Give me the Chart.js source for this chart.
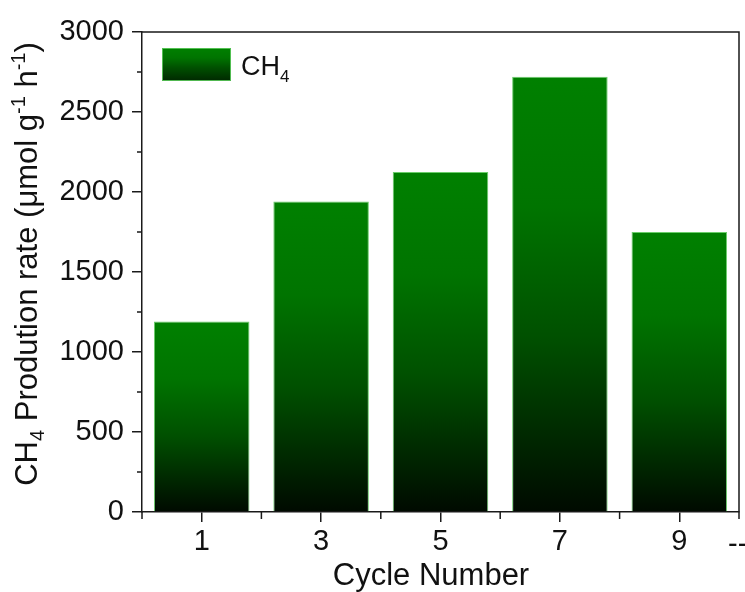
<!DOCTYPE html>
<html>
<head>
<meta charset="utf-8">
<script src="https://cdn.jsdelivr.net/npm/chart.js@4.4.0/dist/chart.umd.min.js"></script>
<style>
  html, body { margin: 0; padding: 0; background: #fff; }
  #wrap { width: 745px; height: 592px; position: relative; }
</style>
</head>
<body>
<div id="wrap"><canvas id="rateChart"></canvas></div>
<script>
const cycles = ['1', '3', '5', '7', '9'];
const ch4Rate = [1190, 1940, 2125, 2720, 1750];
const yTickValues = [0, 500, 1000, 1500, 2000, 2500, 3000];
const yMinorValues = [250, 750, 1250, 1750, 2250, 2750];

const FONT = "'Liberation Sans', Arial, sans-serif";
const AXIS = '#1a1a1a';

// each bar: green on top, fading to almost black at the base
function barGradient(c, top, bottom, dark) {
    const g = c.createLinearGradient(0, top, 0, bottom);
    g.addColorStop(0, 'rgb(0,128,0)');
    g.addColorStop(0.3, 'rgb(0,116,0)');
    g.addColorStop(0.6, 'rgb(0,80,0)');
    g.addColorStop(1, dark);
    return g;
}

// draws text pieces with sub/superscripts along one baseline
function richWidth(c, parts) {
    let w = 0;
    parts.forEach(p => {
        c.font = p.size + 'px ' + FONT;
        w += c.measureText(p.t).width;
    });
    return w;
}
function drawRich(c, parts, x, y) {
    parts.forEach(p => {
        c.font = p.size + 'px ' + FONT;
        c.fillText(p.t, x, y + (p.dy || 0));
        x += c.measureText(p.t).width;
    });
}

const yTitle = [
    { t: 'CH', size: 31 },
    { t: '4', size: 20, dy: 7 },
    { t: ' Prodution rate (\u03bcmol g', size: 31 },
    { t: '-1', size: 20, dy: -12 },
    { t: ' h', size: 31 },
    { t: '-1', size: 20, dy: -12 },
    { t: ')', size: 31 }
];

const decorations = {
    id: 'decorations',
    afterDraw(chart) {
        const c = chart.ctx;
        const area = chart.chartArea;
        const xs = chart.scales.x;
        const ys = chart.scales.y;
        c.save();

        // top and right edges of the frame
        c.strokeStyle = AXIS;
        c.lineWidth = 1.5;
        c.beginPath();
        c.moveTo(area.left, area.top);
        c.lineTo(area.right, area.top);
        c.lineTo(area.right, area.bottom);
        c.stroke();

        // minor ticks
        c.beginPath();
        for (let i = -0.5; i <= cycles.length - 0.5; i += 1) {
            const px = xs.getPixelForValue(i);
            c.moveTo(px, area.bottom);
            c.lineTo(px, area.bottom + 7);
        }
        yMinorValues.forEach(v => {
            const py = ys.getPixelForValue(v);
            c.moveTo(area.left - 5, py);
            c.lineTo(area.left, py);
        });
        c.stroke();

        c.fillStyle = '#111';
        c.textBaseline = 'alphabetic';

        // x title
        c.font = '31px ' + FONT;
        c.textAlign = 'center';
        c.fillText('Cycle Number', 431, 585);

        // stray dashes at the right end of the axis labels
        c.font = '29px ' + FONT;
        c.textAlign = 'left';
        c.textBaseline = 'middle';
        c.fillText('--', 728, 545);
        c.textBaseline = 'alphabetic';

        // y title, rotated
        c.save();
        c.translate(37, 264);
        c.rotate(-Math.PI / 2);
        const w = richWidth(c, yTitle);
        drawRich(c, yTitle, -w / 2, 0);
        c.restore();

        // legend
        const lx = 162, ly = 48, lw = 69, lh = 33;
        c.fillStyle = barGradient(c, ly, ly + lh, 'rgb(0,40,0)');
        c.fillRect(lx, ly, lw, lh);
        c.strokeStyle = 'rgba(90,200,90,0.9)';
        c.lineWidth = 1;
        c.strokeRect(lx + 0.5, ly + 0.5, lw - 1, lh - 1);
        c.fillStyle = '#111';
        drawRich(c, [{ t: 'CH', size: 27 }, { t: '4', size: 17, dy: 7 }], 241, 75);

        c.restore();
    }
};

const rateChart = new Chart(document.getElementById('rateChart'), {
    type: 'bar',
    data: {
        labels: cycles,
        datasets: [{
            label: 'CH4',
            data: ch4Rate,
            backgroundColor: function(context) {
                const chart = context.chart;
                if (!chart.chartArea || context.parsed == null) return 'rgb(0,100,0)';
                const ys = chart.scales.y;
                const top = ys.getPixelForValue(context.parsed.y);
                const bottom = ys.getPixelForValue(0);
                return barGradient(chart.ctx, top, bottom, 'rgb(0,10,0)');
            },
            borderColor: 'rgba(90,200,90,0.9)',
            borderWidth: 1,
            barPercentage: 0.8,
            categoryPercentage: 1
        }]
    },
    options: {
        responsive: true,
        maintainAspectRatio: false,
        animation: false,
        layout: { padding: { top: 32, right: 6, left: 0, bottom: 0 } },
        plugins: {
            legend: { display: false },
            tooltip: { enabled: false }
        },
        scales: {
            x: {
                grid: { offset: false, drawOnChartArea: false, tickLength: 10, color: AXIS, lineWidth: 1.5 },
                border: { display: true, color: AXIS, width: 1.5 },
                ticks: { font: { family: FONT, size: 29 }, color: '#111', padding: 3, maxRotation: 0 },
                afterFit: s => { s.height = 80; }
            },
            y: {
                min: 0,
                max: 3000,
                afterBuildTicks: s => { s.ticks = yTickValues.map(v => ({ value: v })); },
                grid: { drawOnChartArea: false, tickLength: 10, color: AXIS, lineWidth: 1.5 },
                border: { display: true, color: AXIS, width: 1.5 },
                ticks: {
                    font: { family: FONT, size: 29 },
                    color: '#111',
                    padding: 8,
                    callback: v => String(v)
                },
                afterFit: s => { s.width = 142; }
            }
        }
    },
    plugins: [decorations]
});
</script>
</body>
</html>
